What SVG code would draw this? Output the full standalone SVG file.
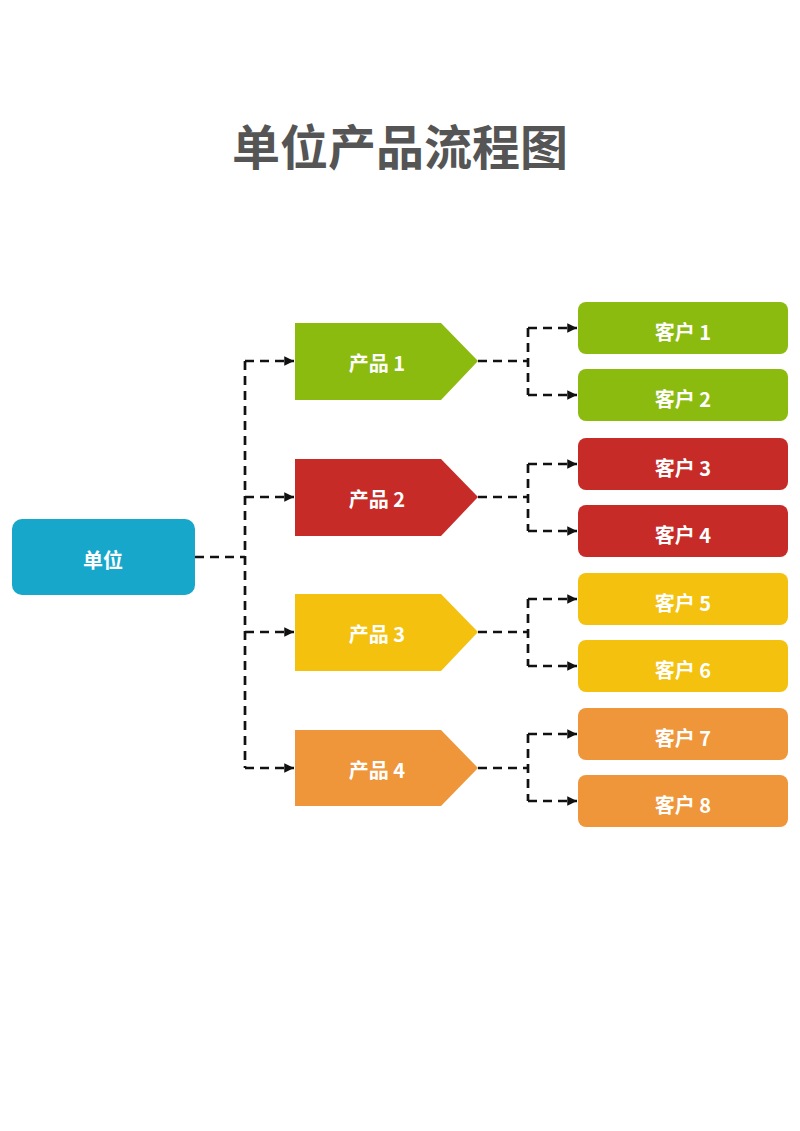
<svg xmlns="http://www.w3.org/2000/svg" width="800" height="1131" viewBox="0 0 800 1131">
<defs>
<marker id="arr" viewBox="0 0 10 10" refX="10" refY="5" markerWidth="3.6" markerHeight="3.6" orient="auto" markerUnits="strokeWidth">
<path d="M0,0 L10,5 L0,10 z" fill="#111"/>
</marker>
<style>
.t{font-family:"Noto Sans CJK SC","Noto Sans",sans-serif;font-weight:bold;fill:#fff;font-size:20px;text-anchor:middle;dominant-baseline:central}
.c{fill:none;stroke:#111;stroke-width:2.7;stroke-dasharray:9 6}
.g{fill:#8CBB10}.r{fill:#C72B27}.y{fill:#F4C10F}.o{fill:#EF963A}
</style>
</defs>
<rect width="800" height="1131" fill="#fff"/>
<text x="400" y="144" font-family="Noto Sans CJK SC,sans-serif" font-weight="bold" font-size="48" fill="#555" text-anchor="middle" dominant-baseline="central">单位产品流程图</text>
<g id="connectors">
<path class="c" d="M195,557 H245"/>
<path class="c" d="M245,361 V768"/>
<path class="c" d="M245,361 H294" marker-end="url(#arr)"/>
<path class="c" d="M245,497 H294" marker-end="url(#arr)"/>
<path class="c" d="M245,632 H294" marker-end="url(#arr)"/>
<path class="c" d="M245,768 H294" marker-end="url(#arr)"/>
<path class="c" d="M478,361 H528 M528,328 V395"/>
<path class="c" d="M528,328 H577" marker-end="url(#arr)"/>
<path class="c" d="M528,395 H577" marker-end="url(#arr)"/>
<path class="c" d="M478,497 H528 M528,464 V531"/>
<path class="c" d="M528,464 H577" marker-end="url(#arr)"/>
<path class="c" d="M528,531 H577" marker-end="url(#arr)"/>
<path class="c" d="M478,632 H528 M528,599 V666"/>
<path class="c" d="M528,599 H577" marker-end="url(#arr)"/>
<path class="c" d="M528,666 H577" marker-end="url(#arr)"/>
<path class="c" d="M478,768 H528 M528,734 V801"/>
<path class="c" d="M528,734 H577" marker-end="url(#arr)"/>
<path class="c" d="M528,801 H577" marker-end="url(#arr)"/>
</g>
<g id="root"><rect x="12" y="519" width="183" height="76" rx="10" fill="#17A7CB"/><text class="t" x="103" y="559">单位</text></g>
<g id="p1"><polygon class="g" points="295,323 441,323 478,361 441,400 295,400"/><text class="t" x="377" y="362">产品 1</text></g>
<g id="p2"><polygon class="r" points="295,459 441,459 478,497 441,536 295,536"/><text class="t" x="377" y="498">产品 2</text></g>
<g id="p3"><polygon class="y" points="295,594 441,594 478,632 441,671 295,671"/><text class="t" x="377" y="633">产品 3</text></g>
<g id="p4"><polygon class="o" points="295,730 441,730 478,768 441,806 295,806"/><text class="t" x="377" y="769">产品 4</text></g>
<g id="c1"><rect class="g" x="578" y="302" width="210" height="52" rx="8"/><text class="t" x="683" y="331">客户 1</text></g>
<g id="c2"><rect class="g" x="578" y="369" width="210" height="52" rx="8"/><text class="t" x="683" y="398">客户 2</text></g>
<g id="c3"><rect class="r" x="578" y="438" width="210" height="52" rx="8"/><text class="t" x="683" y="467">客户 3</text></g>
<g id="c4"><rect class="r" x="578" y="505" width="210" height="52" rx="8"/><text class="t" x="683" y="534">客户 4</text></g>
<g id="c5"><rect class="y" x="578" y="573" width="210" height="52" rx="8"/><text class="t" x="683" y="602">客户 5</text></g>
<g id="c6"><rect class="y" x="578" y="640" width="210" height="52" rx="8"/><text class="t" x="683" y="669">客户 6</text></g>
<g id="c7"><rect class="o" x="578" y="708" width="210" height="52" rx="8"/><text class="t" x="683" y="737">客户 7</text></g>
<g id="c8"><rect class="o" x="578" y="775" width="210" height="52" rx="8"/><text class="t" x="683" y="804">客户 8</text></g>
</svg>
